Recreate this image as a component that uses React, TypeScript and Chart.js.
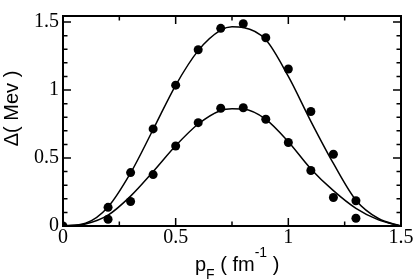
import React, { useEffect, useRef } from "react";
import { Chart, registerables } from "chart.js";

Chart.register(...registerables);

// Scatter data (p_F in fm^-1, gap in MeV)
const pointX = [0.2, 0.3, 0.4, 0.5, 0.6, 0.7, 0.8, 0.9, 1.0, 1.1, 1.2, 1.3];
const upperPoints = [0.137, 0.393, 0.714, 1.036, 1.296, 1.454, 1.488, 1.385, 1.155, 0.842, 0.528, 0.186];
const lowerPoints = [0.05, 0.18, 0.378, 0.588, 0.76, 0.866, 0.87, 0.785, 0.614, 0.408, 0.21, 0.057];
const originX = [0];
const originY = [0];

// Smooth curves
const curveX = [0, 0.1, 0.2, 0.3, 0.4, 0.5, 0.6, 0.7, 0.75, 0.8, 0.9, 1.0, 1.1, 1.2, 1.3, 1.4, 1.5];
const upperCurve = [0, 0.02, 0.14, 0.39, 0.71, 1.035, 1.29, 1.44, 1.465, 1.46, 1.37, 1.1, 0.77, 0.46, 0.19, 0.055, 0];
const lowerCurve = [0, 0.015, 0.08, 0.22, 0.4, 0.59, 0.75, 0.85, 0.863, 0.86, 0.785, 0.62, 0.42, 0.26, 0.13, 0.045, 0];

// Axes
const xTicks = [0, 0.5, 1, 1.5];
const xMinorTicks = [0.25, 0.75, 1.25];
const yTicks = [0, 0.5, 1, 1.5];
const yMinorTicks = [0.1, 0.2, 0.3, 0.4, 0.6, 0.7, 0.8, 0.9, 1.1, 1.2, 1.3, 1.4];
const xMin = 0;
const xMax = 1.5;
const yMin = 0;
const yMax = 1.5446;

const yTitle = "Δ( Mev )";
const xTitleMain = "p";
const xTitleSub = "F";
const xTitleMid = " ( fm";
const xTitleSup = "-1";
const xTitleEnd = " )";

const zip = (xs: number[], ys: number[]) => xs.map((x, i) => ({ x, y: ys[i] }));

const framePlugin = {
  id: "frame",
  beforeDatasetsDraw(chart: any) {
    const { ctx, chartArea: a, scales } = chart;
    const xs = scales.x;
    const ys = scales.y;
    ctx.save();
    ctx.strokeStyle = "#000";
    ctx.lineWidth = 1.5;
    const major = 8;
    const minor = 4.5;
    const drawX = (v: number, len: number) => {
      const px = xs.getPixelForValue(v);
      ctx.beginPath();
      ctx.moveTo(px, a.bottom);
      ctx.lineTo(px, a.bottom - len);
      ctx.moveTo(px, a.top);
      ctx.lineTo(px, a.top + len);
      ctx.stroke();
    };
    const drawY = (v: number, len: number) => {
      const py = ys.getPixelForValue(v);
      ctx.beginPath();
      ctx.moveTo(a.left, py);
      ctx.lineTo(a.left + len, py);
      ctx.moveTo(a.right, py);
      ctx.lineTo(a.right - len, py);
      ctx.stroke();
    };
    xTicks.forEach((v) => drawX(v, major));
    xMinorTicks.forEach((v) => drawX(v, minor));
    yTicks.forEach((v) => drawY(v, major));
    yMinorTicks.forEach((v) => drawY(v, minor));
    ctx.lineWidth = 2;
    ctx.strokeRect(a.left, a.top, a.right - a.left, a.bottom - a.top);
    ctx.restore();
  },
  afterDraw(chart: any) {
    const { ctx } = chart;
    ctx.save();
    ctx.fillStyle = "#000";
    // Y title
    ctx.save();
    ctx.translate(18, 108.5);
    ctx.rotate(-Math.PI / 2);
    ctx.font = '20px "Liberation Sans", Arial, sans-serif';
    ctx.textAlign = "center";
    ctx.textBaseline = "alphabetic";
    ctx.fillText(yTitle, 0, 0);
    ctx.restore();
    // X title with subscript / superscript
    ctx.textAlign = "left";
    ctx.textBaseline = "alphabetic";
    const big = '20px "Liberation Sans", Arial, sans-serif';
    const small = '14px "Liberation Sans", Arial, sans-serif';
    let x = 195;
    const base = 271;
    ctx.font = big;
    ctx.fillText(xTitleMain, x, base);
    x += ctx.measureText(xTitleMain).width;
    ctx.font = small;
    ctx.fillText(xTitleSub, x, base + 8);
    x += ctx.measureText(xTitleSub).width;
    ctx.font = big;
    ctx.fillText(xTitleMid, x, base);
    x += ctx.measureText(xTitleMid).width;
    ctx.font = small;
    ctx.fillText(xTitleSup, x, base - 14);
    x += ctx.measureText(xTitleSup).width;
    ctx.font = big;
    ctx.fillText(xTitleEnd, x, base);
    ctx.restore();
  },
};

export default function App() {
  const ref = useRef<HTMLCanvasElement | null>(null);
  useEffect(() => {
    document.body.style.margin = "0";
    const canvas = ref.current;
    if (!canvas) return;
    const tickFont = { family: '"Liberation Serif", "Times New Roman", serif', size: 20 };
    const chart = new Chart(canvas, {
      type: "scatter",
      data: {
        datasets: [
          {
            type: "line",
            data: zip(curveX, upperCurve),
            borderColor: "#000",
            borderWidth: 1.5,
            pointRadius: 0,
            cubicInterpolationMode: "monotone",
            fill: false,
          } as any,
          {
            type: "line",
            data: zip(curveX, lowerCurve),
            borderColor: "#000",
            borderWidth: 1.5,
            pointRadius: 0,
            cubicInterpolationMode: "monotone",
            fill: false,
          } as any,
          {
            data: zip(pointX, upperPoints),
            backgroundColor: "#000",
            borderColor: "#000",
            pointRadius: 4.5,
            borderWidth: 0,
          },
          {
            data: zip(pointX, lowerPoints),
            backgroundColor: "#000",
            borderColor: "#000",
            pointRadius: 4.5,
            borderWidth: 0,
          },
          {
            data: zip(originX, originY),
            backgroundColor: "#000",
            borderColor: "#000",
            pointRadius: 4.5,
            borderWidth: 0,
          },
        ],
      },
      options: {
        animation: false,
        responsive: false,
        devicePixelRatio: 1,
        layout: { padding: { top: 1, right: 14, left: 0, bottom: 0 } },
        plugins: { legend: { display: false }, tooltip: { enabled: false } },
        scales: {
          x: {
            type: "linear",
            min: xMin,
            max: xMax,
            grid: { display: false, drawTicks: false },
            border: { display: false },
            afterBuildTicks: (s: any) => {
              s.ticks = xTicks.map((v) => ({ value: v }));
            },
            afterFit: (s: any) => {
              s.height = 54;
            },
            ticks: {
              color: "#000",
              font: tickFont,
              padding: 0,
              maxRotation: 0,
              callback: (v: any) => String(v),
            },
          },
          y: {
            type: "linear",
            min: yMin,
            max: yMax,
            grid: { display: false, drawTicks: false },
            border: { display: false },
            afterBuildTicks: (s: any) => {
              s.ticks = yTicks.map((v) => ({ value: v }));
            },
            afterFit: (s: any) => {
              s.width = 63;
            },
            ticks: {
              color: "#000",
              font: tickFont,
              padding: 4,
              callback: (v: any) => String(v),
            },
          },
        },
      },
      plugins: [framePlugin],
    });
    return () => chart.destroy();
  }, []);
  return (
    <div style={{ width: 415, height: 280 }}>
      <canvas ref={ref} width={415} height={280} style={{ display: "block" }} />
    </div>
  );
}
